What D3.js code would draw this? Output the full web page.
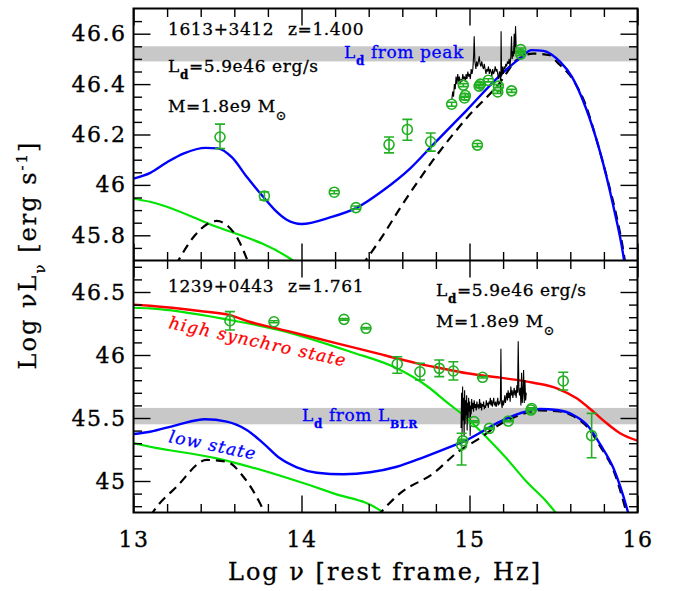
<!DOCTYPE html>
<html>
<head>
<meta charset="utf-8">
<script src="https://cdn.jsdelivr.net/npm/d3@7"></script>
<style>
  html, body { margin: 0; padding: 0; background: #fff; }
  svg { display: block; }
  text { font-family: "DejaVu Serif", "Liberation Serif", serif; }
</style>
</head>
<body>
<svg id="chart" width="676" height="591"></svg>
<script>
// ---------- data: 1613+3412 (upper panel) ----------
const aTotal = [[13.0,46.025],[13.1,46.048],[13.2,46.09],[13.3,46.125],[13.43,46.147],[13.5,46.145],[13.585,46.11],[13.674,46.032],[13.773,45.952],[13.842,45.900],[13.912,45.862],[14.0,45.845],[14.17,45.871],[14.33,45.910],[14.487,45.979],[14.646,46.065],[14.785,46.161],[14.983,46.296],[15.182,46.435],[15.30,46.502],[15.37,46.535],[15.44,46.532],[15.54,46.488],[15.61,46.429],[15.69,46.31],[15.777,46.131],[15.857,45.913],[15.917,45.714],[15.94,45.6]];
const aDisk = [[14.36,45.68],[14.485,45.80],[14.586,45.907],[14.783,46.098],[14.983,46.265],[15.182,46.407],[15.28,46.495],[15.378,46.521],[15.479,46.515],[15.52,46.488],[15.618,46.415],[15.688,46.323],[15.757,46.177],[15.817,46.032],[15.876,45.873],[15.915,45.741],[15.935,45.65]];
const aTorus = [[13.25,45.68],[13.366,45.80],[13.44,45.845],[13.495,45.857],[13.563,45.836],[13.616,45.792],[13.69,45.68]];
const aSynchro = [[13.0,45.945],[13.098,45.933],[13.455,45.844],[13.94,45.704],[13.97,45.69]];
// [log nu, log nuL, lower, upper]
const aPoints = [[13.515,46.19,46.144,46.241],[13.779,45.956,45.94,45.972],[14.195,45.971,45.965,45.977],[14.324,45.910,45.904,45.916],[14.521,46.160,46.127,46.19],[14.63,46.220,46.177,46.26],[14.769,46.171,46.134,46.206],[14.894,46.320,46.312,46.328],[14.963,46.396,46.39,46.402],[14.97,46.345,46.338,46.352],[14.975,46.355,46.348,46.362],[15.047,46.158,46.152,46.164],[15.057,46.392,46.386,46.398],[15.065,46.40,46.394,46.406],[15.112,46.415,46.409,46.421],[15.168,46.369,46.363,46.375],[15.172,46.392,46.386,46.398],[15.251,46.373,46.367,46.379],[15.305,46.537,46.531,46.543],[15.305,46.519,46.513,46.525]];
const aSpectrum = [[14.895,46.34],[14.900,46.37],[14.905,46.35],[14.910,46.40],[14.915,46.38],[14.920,46.43],[14.925,46.40],[14.930,46.44],[14.935,46.41],[14.940,46.43],[14.945,46.40],[14.950,46.42],[14.955,46.41],[14.960,46.44],[14.965,46.42],[14.970,46.43],[14.975,46.41],[14.980,46.44],[14.985,46.42],[14.990,46.45],[14.995,46.43],[15.000,46.44],[15.005,46.42],[15.010,46.46],[15.015,46.44],[15.020,46.46],[15.025,46.52],[15.028,46.59],[15.032,46.49],[15.038,46.46],[15.043,46.49],[15.048,46.47],[15.053,46.49],[15.058,46.51],[15.063,46.48],[15.068,46.47],[15.073,46.49],[15.078,46.47],[15.083,46.46],[15.088,46.48],[15.093,46.46],[15.098,46.44],[15.103,46.46],[15.108,46.45],[15.113,46.47],[15.118,46.44],[15.123,46.46],[15.128,46.45],[15.133,46.43],[15.138,46.46],[15.143,46.44],[15.148,46.45],[15.153,46.47],[15.158,46.45],[15.163,46.46],[15.168,46.44],[15.173,46.42],[15.178,46.45],[15.183,46.44],[15.186,46.36],[15.188,46.61],[15.191,46.43],[15.196,46.47],[15.201,46.44],[15.206,46.47],[15.211,46.46],[15.216,46.48],[15.221,46.47],[15.226,46.49],[15.231,46.48],[15.236,46.50],[15.241,46.47],[15.246,46.51],[15.250,46.59],[15.254,46.50],[15.258,46.53],[15.262,46.51],[15.266,46.60],[15.270,46.52],[15.274,46.63],[15.278,46.54]];
const aBand = [46.49, 46.55];

// ---------- data: 1239+0443 (lower panel) ----------
const bHigh = [[13.0,46.40],[13.098,46.391],[13.395,46.349],[13.574,46.317],[13.69,46.264],[13.893,46.198],[14.091,46.133],[14.29,46.066],[14.488,46.0],[14.687,45.934],[14.83,45.895],[14.985,45.855],[15.182,45.82],[15.38,45.78],[15.52,45.736],[15.638,45.656],[15.737,45.55],[15.817,45.458],[15.896,45.379],[16.0,45.32]];
const bSynchroHigh = [[13.0,46.375],[13.098,46.37],[13.574,46.278],[13.893,46.19],[14.29,46.026],[14.568,45.894],[14.75,45.75],[14.87,45.62],[14.983,45.50],[15.1,45.35],[15.22,45.18],[15.34,44.994],[15.459,44.836],[15.53,44.72]];
const bLow = [[13.0,45.373],[13.098,45.391],[13.257,45.444],[13.426,45.49],[13.555,45.471],[13.674,45.405],[13.773,45.299],[13.872,45.18],[13.972,45.109],[14.091,45.066],[14.25,45.053],[14.408,45.069],[14.567,45.113],[14.726,45.188],[14.885,45.27],[14.983,45.325],[15.182,45.471],[15.30,45.537],[15.42,45.571],[15.52,45.563],[15.618,45.524],[15.70,45.444],[15.78,45.286],[15.857,45.101],[15.937,44.783],[15.95,44.72]];
const bSynchroLow = [[13.0,45.30],[13.098,45.272],[13.495,45.18],[13.893,45.034],[14.191,44.902],[14.478,44.757],[14.49,44.74]];
const bTorus = [[13.10,44.72],[13.118,44.757],[13.257,44.955],[13.436,45.167],[13.555,45.153],[13.654,45.034],[13.753,44.823],[13.79,44.72]];
const bDisk = [[14.45,44.72],[14.586,44.902],[14.785,45.061],[14.933,45.233],[15.05,45.33],[15.182,45.45],[15.30,45.525],[15.42,45.56],[15.52,45.555],[15.618,45.515],[15.70,45.43],[15.78,45.27],[15.857,45.085],[15.93,44.77],[15.94,44.72]];
const bPoints = [[13.574,46.272,46.198,46.344],[13.836,46.264,46.256,46.272],[14.253,46.283,46.277,46.289],[14.384,46.212,46.206,46.218],[14.570,45.929,45.855,45.986],[14.705,45.867,45.802,45.934],[14.82,45.894,45.828,45.96],[14.904,45.873,45.802,45.947],[15.078,45.823,45.817,45.829],[15.558,45.794,45.722,45.863],[15.727,45.360,45.185,45.537],[14.953,45.286,45.127,45.379],[14.96,45.32,45.31,45.33],[15.027,45.471,45.465,45.477],[15.118,45.418,45.412,45.424],[15.231,45.476,45.47,45.482],[15.366,45.563,45.557,45.569],[15.37,45.575,45.569,45.581]];
const bSpectrum = [[14.950,45.42],[14.953,45.70],[14.956,45.38],[14.959,45.75],[14.962,45.48],[14.965,45.66],[14.968,45.35],[14.971,45.72],[14.974,45.45],[14.977,45.64],[14.980,45.52],[14.983,45.68],[14.986,45.40],[14.989,45.62],[14.992,45.50],[14.995,45.66],[14.998,45.55],[15.001,45.63],[15.004,45.36],[15.007,45.60],[15.010,45.53],[15.013,45.65],[15.016,45.57],[15.020,45.62],[15.024,45.55],[15.028,45.64],[15.032,45.58],[15.036,45.61],[15.040,45.56],[15.044,45.63],[15.048,45.59],[15.052,45.60],[15.056,45.57],[15.060,45.65],[15.064,45.58],[15.068,45.62],[15.072,45.56],[15.076,45.61],[15.080,45.59],[15.084,45.63],[15.088,45.57],[15.092,45.60],[15.096,45.58],[15.100,45.64],[15.104,45.60],[15.108,45.62],[15.112,45.58],[15.116,45.63],[15.120,45.61],[15.124,45.66],[15.128,45.60],[15.132,45.64],[15.136,45.59],[15.140,45.62],[15.144,45.66],[15.148,45.61],[15.152,45.60],[15.156,45.63],[15.160,45.59],[15.164,45.62],[15.168,45.66],[15.172,45.60],[15.176,45.63],[15.180,45.61],[15.184,45.65],[15.187,46.05],[15.190,45.62],[15.194,45.58],[15.198,45.64],[15.202,45.60],[15.206,45.63],[15.210,45.68],[15.214,45.62],[15.218,45.66],[15.222,45.70],[15.226,45.64],[15.230,45.72],[15.234,45.66],[15.238,45.70],[15.242,45.63],[15.246,45.75],[15.250,45.68],[15.254,45.72],[15.258,45.66],[15.262,45.70],[15.266,45.74],[15.270,45.68],[15.274,45.72],[15.278,45.66],[15.282,45.76],[15.286,45.70],[15.290,46.11],[15.294,45.72],[15.298,45.68],[15.302,45.74],[15.306,45.60],[15.310,45.86],[15.314,45.62],[15.318,45.70],[15.322,45.88],[15.326,45.62],[15.330,45.80],[15.334,45.64],[15.338,45.70]];
const bBand = [45.45, 45.58];

// ---------- axes ----------
const xMajor = [13, 14, 15, 16];
const xTickLabels = ["13", "14", "15", "16"];
const aMajor = [45.8, 46, 46.2, 46.4, 46.6];
const aTickLabels = ["45.8", "46", "46.2", "46.4", "46.6"];
const bMajor = [45, 45.5, 46, 46.5];
const bTickLabels = ["45", "45.5", "46", "46.5"];

const C = { blue: "#0000ff", red: "#ff0000", green: "#00e400", points: "#22b022", band: "#c8c8c8", black: "#000" };

const L = 133.5, R = 637.5, T = 8.5, M = 260.5, B = 512.5;
const x = d3.scaleLinear().domain([13, 16]).range([L, R]);
const yA = d3.scaleLinear().domain([45.7, 46.7]).range([M, T]);
const yB = d3.scaleLinear().domain([44.75, 46.75]).range([B, M]);

const svg = d3.select("#chart");
const defs = svg.append("defs");
defs.append("clipPath").attr("id", "clipA").append("rect").attr("x", L).attr("y", T).attr("width", R - L).attr("height", M - T);
defs.append("clipPath").attr("id", "clipB").append("rect").attr("x", L).attr("y", M).attr("width", R - L).attr("height", B - M);

function range(a, b, s) { const out = []; for (let v = a; v <= b + 1e-9; v += s) out.push(+v.toFixed(3)); return out; }

function panel(id, y, d) {
  const g = svg.append("g").attr("clip-path", `url(#${id})`);
  // disk luminance band
  g.append("rect").attr("x", L).attr("width", R - L)
    .attr("y", y(d.band[1])).attr("height", y(d.band[0]) - y(d.band[1]))
    .attr("fill", C.band);
  const line = d3.line().x(p => x(p[0])).y(p => y(p[1])).curve(d3.curveMonotoneX);
  const raw = d3.line().x(p => x(p[0])).y(p => y(p[1]));
  d.curves.forEach(c => {
    g.append("path").attr("d", line(c.data)).attr("fill", "none")
      .attr("stroke", c.color).attr("stroke-width", c.width || 2.2)
      .attr("stroke-dasharray", c.dash || null);
  });
  g.append("path").attr("d", raw(d.spectrum)).attr("fill", "none")
    .attr("stroke", C.black).attr("stroke-width", 1.1);
  const pts = g.append("g").attr("stroke", C.points).attr("fill", "none").attr("stroke-width", 1.6);
  d.points.forEach(p => {
    const cx = x(p[0]), lo = y(p[2]), hi = y(p[3]);
    pts.append("line").attr("x1", cx).attr("x2", cx).attr("y1", lo).attr("y2", hi);
    pts.append("line").attr("x1", cx - 5).attr("x2", cx + 5).attr("y1", lo).attr("y2", lo);
    pts.append("line").attr("x1", cx - 5).attr("x2", cx + 5).attr("y1", hi).attr("y2", hi);
    pts.append("circle").attr("cx", cx).attr("cy", y(p[1])).attr("r", 5);
  });
}

panel("clipA", yA, {
  band: aBand, spectrum: aSpectrum, points: aPoints,
  curves: [
    { data: aSynchro, color: C.green },
    { data: aTorus, color: C.black, dash: "9,6" },
    { data: aDisk, color: C.black, dash: "9,6" },
    { data: aTotal, color: C.blue, width: 2.4 }
  ]
});
panel("clipB", yB, {
  band: bBand, spectrum: bSpectrum, points: bPoints,
  curves: [
    { data: bSynchroHigh, color: C.green },
    { data: bSynchroLow, color: C.green },
    { data: bTorus, color: C.black, dash: "9,6" },
    { data: bDisk, color: C.black, dash: "9,6" },
    { data: bHigh, color: C.red, width: 2.4 },
    { data: bLow, color: C.blue, width: 2.4 }
  ]
});

// ---------- frames and ticks ----------
const MAJ = 17, MIN = 8.5;
function styleAxis(g) {
  g.select(".domain").remove();
  g.selectAll(".tick line").attr("stroke", "#000").attr("stroke-width", 1.4);
}
function xAxes(y0, dir) {
  // dir = +1 ticks pointing down from y0, -1 pointing up
  const mk = (vals, size) => {
    const ax = (dir > 0 ? d3.axisTop(x) : d3.axisBottom(x)).tickValues(vals).tickSize(-size).tickFormat("");
    svg.append("g").attr("transform", `translate(0,${y0})`).call(ax).call(styleAxis).selectAll("text").remove();
  };
  mk(range(13, 16, 0.2).filter(v => !xMajor.includes(Math.round(v * 10) / 10)), MIN);
  mk(xMajor, MAJ);
}
xAxes(T, 1); xAxes(M, -1); xAxes(M, 1); xAxes(B, -1);

const labelStyle = s => s.attr("font-family", "DejaVu Serif").attr("font-size", 22)
  .attr("letter-spacing", 1.5).attr("fill", "#000")
  .attr("stroke", "#000").attr("stroke-width", 0.35);

function yAxes(y, major, minor, labels) {
  [[L, d3.axisLeft], [R, d3.axisRight]].forEach(([x0, fn], i) => {
    svg.append("g").attr("transform", `translate(${x0},0)`)
      .call(fn(y).tickValues(minor).tickSize(-MIN).tickFormat("")).call(styleAxis);
    const g = svg.append("g").attr("transform", `translate(${x0},0)`)
      .call(fn(y).tickValues(major).tickSize(-MAJ).tickPadding(7)
        .tickFormat((d, k) => i === 0 ? labels[k] : "")).call(styleAxis);
    g.selectAll("text").call(labelStyle);
  });
}
yAxes(yA, aMajor, range(45.75, 46.65, 0.05).filter(v => !aMajor.some(m => Math.abs(m - v) < 1e-6)), aTickLabels);
yAxes(yB, bMajor, range(44.8, 46.7, 0.1).filter(v => !bMajor.some(m => Math.abs(m - v) < 1e-6)), bTickLabels);

const xl = svg.append("g").attr("transform", `translate(0,${B})`)
  .call(d3.axisBottom(x).tickValues(xMajor).tickSize(0).tickPadding(19).tickFormat((d, k) => xTickLabels[k]));
xl.select(".domain").remove();
xl.selectAll("text").call(labelStyle);

svg.append("rect").attr("x", L).attr("y", T).attr("width", R - L).attr("height", B - T)
  .attr("fill", "none").attr("stroke", "#000").attr("stroke-width", 2);
svg.append("line").attr("x1", L).attr("x2", R).attr("y1", M).attr("y2", M)
  .attr("stroke", "#000").attr("stroke-width", 2);

// ---------- text ----------
function rich(parent, xPos, yPos, parts, opts = {}) {
  const color = opts.color || "#000";
  const t = parent.append("text").attr("x", xPos).attr("y", yPos)
    .attr("font-size", opts.size || 17).attr("fill", color)
    .attr("stroke", color).attr("stroke-width", opts.stroke == null ? 0.3 : opts.stroke)
    .attr("letter-spacing", opts.ls == null ? 0.6 : opts.ls)
    .attr("font-style", opts.italic ? "italic" : null)
    .attr("text-anchor", opts.anchor || "start");
  if (opts.rotate) t.attr("transform", `rotate(${opts.rotate},${xPos},${yPos})`);
  parts.forEach(p => {
    if (typeof p === "string") { t.append("tspan").text(p); return; }
    const s = t.append("tspan").text(p.t).attr("font-size", p.size || 12)
      .attr("baseline-shift", p.sup ? "super" : "sub");
    if (p.bold) s.attr("font-weight", "bold");
  });
  return t;
}

rich(svg, 168, 35, ["1613+3412"]);
rich(svg, 288, 35, ["z=1.400"]);
rich(svg, 168, 72, ["L", { t: "d", bold: true }, "=5.9e46 erg/s"]);
rich(svg, 168, 112, ["M=1.8e9 M", { t: "⊙", size: 13 }]);
rich(svg, 344, 58, ["L", { t: "d", bold: true }, " from peak"], { color: C.blue });

rich(svg, 168, 292, ["1239+0443"]);
rich(svg, 288, 292, ["z=1.761"]);
rich(svg, 436, 296, ["L", { t: "d", bold: true }, "=5.9e46 erg/s"]);
rich(svg, 436, 327, ["M=1.8e9 M", { t: "⊙", size: 13 }]);
rich(svg, 302, 421, ["L", { t: "d", bold: true }, " from L", { t: "BLR", bold: true, size: 11 }], { color: C.blue });
rich(svg, 168, 328, ["high synchro state"], { color: C.red, italic: true, rotate: 12.3, ls: 1.2 });
rich(svg, 168, 442, ["low state"], { color: C.blue, italic: true, rotate: 11.5, ls: 1.2 });

// axis titles
rich(svg, 385, 580, ["Log ", "ν", " [rest frame, Hz]"], { size: 24, ls: 2, anchor: "middle" });
rich(svg, 36, 255, ["Log νL", { t: "ν", size: 15 }, " [erg s", { t: "-1", sup: true, size: 15 }, "]"],
  { size: 24, ls: 2, anchor: "middle", rotate: -90 });
</script>
</body>
</html>
